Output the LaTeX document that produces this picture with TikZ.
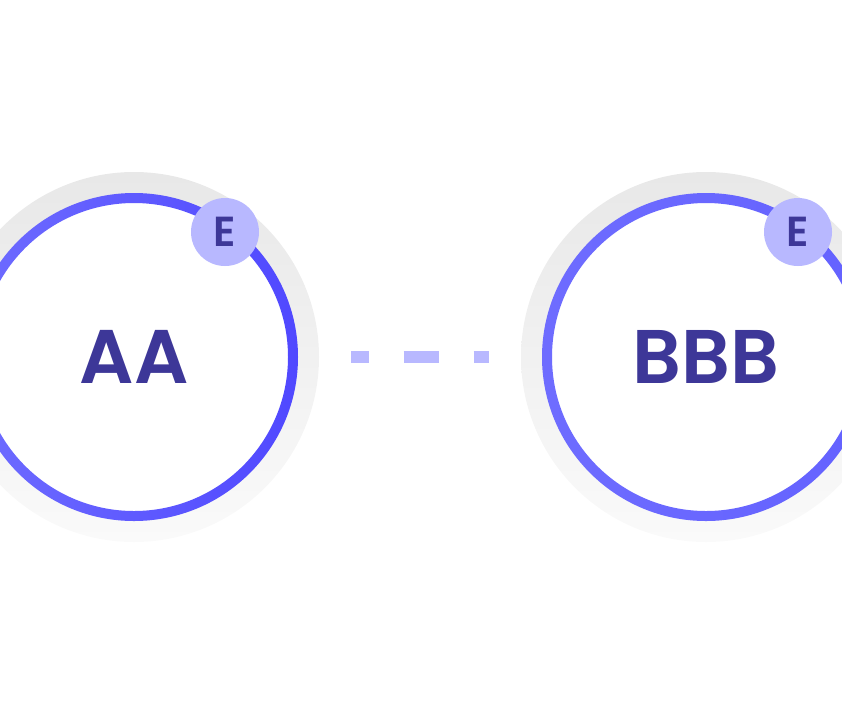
\documentclass[tikz,border=0pt]{standalone}
\usepackage{fontspec}
\setmainfont{Poppins}[BoldFont={Poppins SemiBold}]
\usetikzlibrary{calc}
\definecolor{ringblue}{HTML}{6462FF}
\definecolor{ringbright}{HTML}{5048FF}
\definecolor{ringsoft}{HTML}{6E6CFF}
\definecolor{badgefill}{HTML}{B8B8FF}
\definecolor{labelink}{HTML}{3D3798}
\definecolor{halotop}{HTML}{E8E8E8}
\definecolor{halobot}{HTML}{FAFAFA}
\tikzset{
  halo/.style={top color=halotop, bottom color=halobot, draw=none},
  ringnode/.style={circle, minimum size=318pt, inner sep=0pt, outer sep=0pt,
    fill=white, font=\bfseries\fontsize{76}{76}\selectfont, text=labelink},
  badge/.style={circle, fill=badgefill, minimum size=68pt, inner sep=0pt,
    font=\bfseries\fontsize{42}{42}\selectfont, text=labelink},
  dashline/.style={draw=badgefill, line width=12pt, dash pattern=on 35pt off 35pt,
    dash phase=17.5pt, shorten <=58pt, shorten >=58pt}
}
\begin{document}
\begin{tikzpicture}[x=1pt,y=-1pt]
\useasboundingbox (0,0) rectangle (842,716);
\coordinate (ca) at (134,357);
\coordinate (cb) at (706,357);
% halos
\shade[halo] (ca) circle (185pt);
\shade[halo] (cb) circle (185pt);
% nodes
\node[ringnode] (A) at (ca) {AA};
\node[ringnode] (B) at (cb) {BBB};
% rings
\shade[left color=ringsoft, right color=ringbright, even odd rule]
  (ca) circle (164pt) (ca) circle (154pt);
\shade[left color=ringsoft, right color=ringblue, even odd rule]
  (cb) circle (164pt) (cb) circle (154pt);
% connector
\draw[dashline] (A) -- (B);
% badges
\node[badge] (EA) at ($(ca)+(91,-125)$) {E};
\node[badge] (EB) at ($(cb)+(92,-125)$) {E};
\end{tikzpicture}
\end{document}
